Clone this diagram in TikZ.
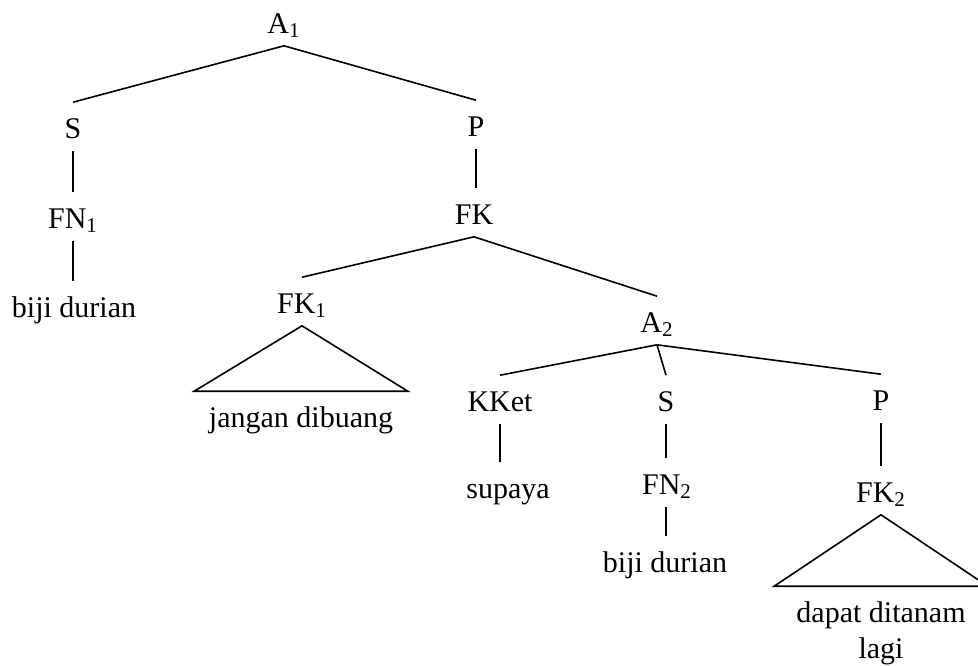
\documentclass[tikz,border=0pt]{standalone}
\usepackage{fontspec}
\setmainfont{Liberation Serif}
\newcommand{\sub}[1]{\textsubscript{#1}}
\begin{document}
\begin{tikzpicture}[
    x=0.5pt, y=-0.5pt,
    every node/.style={
      anchor=base,
      font=\fontsize{15}{18}\selectfont,
      text height=14.5pt,
      text depth=3pt,
      inner ysep=3pt,
      inner xsep=1pt
    },
    every path/.style={line width=0.8pt},
    roof/.style={minimum width=106pt}
  ]
    \useasboundingbox (0,0) rectangle (978,665);
    % top clause
    \node (a1) at (284,33) {A\sub{1}};
    \node (s1) at (73,138) {S};
    \node (p1) at (476,136) {P};
    \node (fn1) at (73,228) {FN\sub{1}};
    \node (bd1) at (74,317) {biji durian};
    \node (fk) at (474,224) {FK};
    \node (fk1) at (302,313) {FK\sub{1}};
    \node[roof] (jd) at (301,427) {jangan dibuang};
    % embedded clause
    \node (a2) at (657,332) {A\sub{2}};
    \node (kket) at (500,411) {KKet};
    \node (s2) at (666,411) {S};
    \node (p2) at (881,410) {P};
    \node (supaya) at (508,498) {supaya};
    \node (fn2) at (667,494) {FN\sub{2}};
    \node (bd2) at (665,572) {biji durian};
    \node (fk2) at (881,502) {FK\sub{2}};
    \node[roof] (dd) at (881,622)
      {\begin{tabular}[t]{@{}c@{}}dapat ditanam\\lagi\end{tabular}};
    % branches
    \draw (a1.south) -- (s1.north);
    \draw (a1.south) -- (p1.north);
    \draw (s1.south) -- (s1.south |- fn1.north);
    \draw (s1.south |- fn1.south) -- (s1.south |- bd1.north);
    \draw (p1.south) -- (p1.south |- fk.north);
    \draw (fk.south) -- (fk1.north);
    \draw (fk.south) -- (a2.north);
    \draw (fk1.south) -- (jd.north west) -- (jd.north east) -- cycle;
    \draw (a2.south) -- (kket.north);
    \draw (a2.south) -- (s2.north);
    \draw (a2.south) -- (p2.north);
    \draw (kket.south) -- (kket.south |- supaya.north);
    \draw (s2.south) -- (s2.south |- fn2.north);
    \draw (s2.south |- fn2.south) -- (s2.south |- bd2.north);
    \draw (p2.south) -- (fk2.north);
    \draw (fk2.south) -- (dd.north west) -- (dd.north east) -- cycle;
  \end{tikzpicture}
\end{document}
